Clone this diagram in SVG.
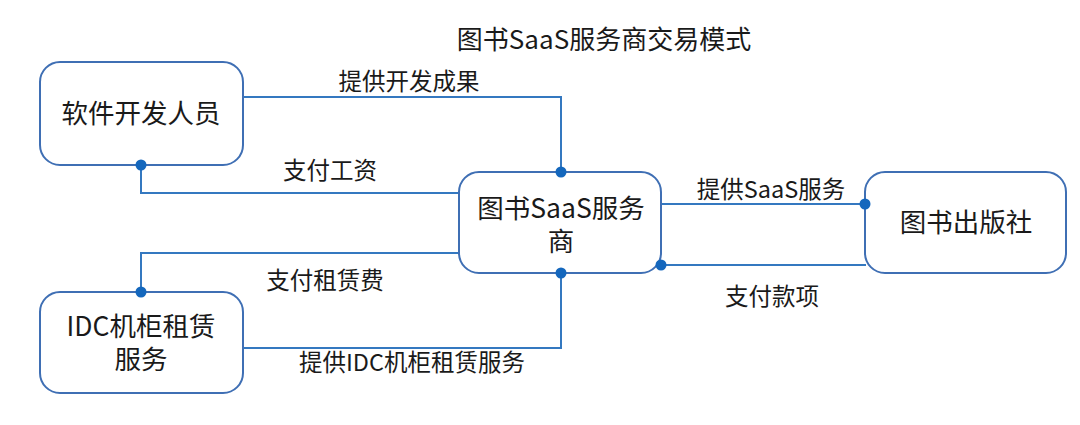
<svg xmlns="http://www.w3.org/2000/svg" width="1080" height="425" viewBox="0 0 1080 425">
<style>
.node{fill:#fff;stroke:#3f6fb4;stroke-width:2}
.nt{font-family:"Noto Sans CJK SC","Noto Sans",sans-serif;font-size:26.5px;fill:#1a1a1a;text-anchor:middle}
.lt{font-family:"Noto Sans CJK SC","Noto Sans",sans-serif;font-size:23.5px;fill:#1a1a1a;text-anchor:middle}
.ln{fill:none;stroke:#3478c0;stroke-width:2}
.dot{fill:#1467bd}
</style>
<rect width="1080" height="425" fill="#fff"/>
<text class="lt" x="604" y="49" style="font-size:26px">图书SaaS服务商交易模式</text>
<g id="connectors">
<polyline class="ln" points="243,97 561,97 561,172"/>
<polyline class="ln" points="141,165 141,193 459,193"/>
<line class="ln" x1="659" y1="204" x2="865" y2="204"/>
<line class="ln" x1="661" y1="265" x2="866" y2="265"/>
<polyline class="ln" points="459,253 141,253 141,292"/>
<polyline class="ln" points="561,273 561,348 243,348"/>
<text class="lt" x="409" y="90">提供开发成果</text>
<text class="lt" x="330" y="179">支付工资</text>
<text class="lt" x="771" y="198">提供SaaS服务</text>
<text class="lt" x="772" y="305">支付款项</text>
<text class="lt" x="325" y="289">支付租赁费</text>
<text class="lt" x="412" y="371">提供IDC机柜租赁服务</text>
</g>
<g id="dev">
<rect class="node" x="40" y="62" width="203" height="103" rx="20"/>
<text class="nt" x="141" y="123">软件开发人员</text>
</g>
<g id="saas">
<rect class="node" x="459" y="172" width="202" height="101" rx="20"/>
<text class="nt" x="561" y="218">图书SaaS服务</text>
<text class="nt" x="561" y="251">商</text>
</g>
<g id="publisher">
<rect class="node" x="865" y="172" width="201" height="101" rx="20"/>
<text class="nt" x="966" y="232">图书出版社</text>
</g>
<g id="idc">
<rect class="node" x="40" y="292" width="203" height="101" rx="20"/>
<text class="nt" x="141" y="336">IDC机柜租赁</text>
<text class="nt" x="141" y="369">服务</text>
</g>
<g id="endpoints">
<circle class="dot" cx="561" cy="172" r="5.5"/>
<circle class="dot" cx="141" cy="165" r="5.5"/>
<circle class="dot" cx="865" cy="204" r="5.5"/>
<circle class="dot" cx="661" cy="265" r="5.5"/>
<circle class="dot" cx="141" cy="292" r="5.5"/>
<circle class="dot" cx="561" cy="273" r="5.5"/>
</g>
</svg>
